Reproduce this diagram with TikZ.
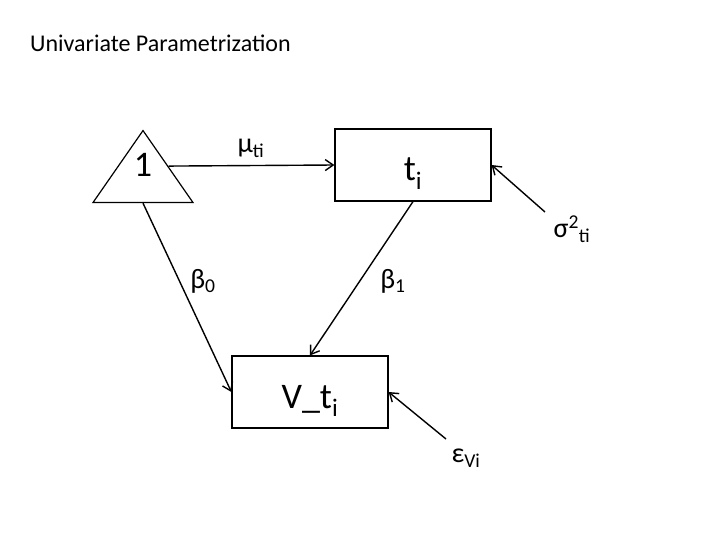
\documentclass[tikz,border=0pt]{standalone}
\usepackage{fontspec}
\setmainfont{Carlito}
\usetikzlibrary{arrows.meta, shapes.geometric}

\tikzset{
    varbox/.style={draw, line width=1.2pt, minimum width=156pt, minimum height=72pt, inner sep=0pt, text height=32pt, text depth=0pt, font=\fontsize{36}{40}\selectfont},
    constri/.style={draw, line width=1.2pt, isosceles triangle, shape border rotate=90, isosceles triangle stretches, minimum width=100pt, minimum height=72pt, inner sep=0pt},
    path/.style={line width=1.4pt, -{Straight Barb[length=8pt, width=11pt]}},
    coef/.style={font=\fontsize{28}{32}\selectfont, inner sep=0pt}
}

\begin{document}
\begin{tikzpicture}[x=1pt, y=-1pt]
    \useasboundingbox (0,0) rectangle (720,540);

    % Title
    \node[anchor=base west, font=\fontsize{24}{28}\selectfont, inner sep=0pt] (title) at (30,52) {Univariate Parametrization};

    % Nodes
    \node[constri, anchor=apex] (tri) at (143,129) {};
    \node[anchor=base, font=\fontsize{36}{40}\selectfont, inner sep=0pt] (one) at (143,177) {1};
    \node[varbox] (tbox) at (413,165) {t\textsubscript{i}};
    \node[varbox] (vbox) at (310,392) {V\_t\textsubscript{i}};

    % Error terms
    \coordinate (sigstart) at (545,212);
    \coordinate (epsstart) at (446,439);

    % Paths
    \draw[path] (tri.right side) -- (tbox.west);
    \draw[path] (tri.lower side) -- (vbox.west);
    \draw[path] (tbox.south) -- (vbox.north);
    \draw[path] (sigstart) -- (tbox.east);
    \draw[path] (epsstart) -- (vbox.east);

    % Labels
    \node[coef] (mulab) at (251,148) {μ\textsubscript{ti}};
    \node[coef] (b0lab) at (203,281) {β\textsubscript{0}};
    \node[coef] (b1lab) at (393,281) {β\textsubscript{1}};
    \node[coef] (siglab) at (572,229) {σ\textsuperscript{2}\textsubscript{ti}};
    \node[coef] (epslab) at (466,458) {ε\textsubscript{Vi}};
\end{tikzpicture}
\end{document}
